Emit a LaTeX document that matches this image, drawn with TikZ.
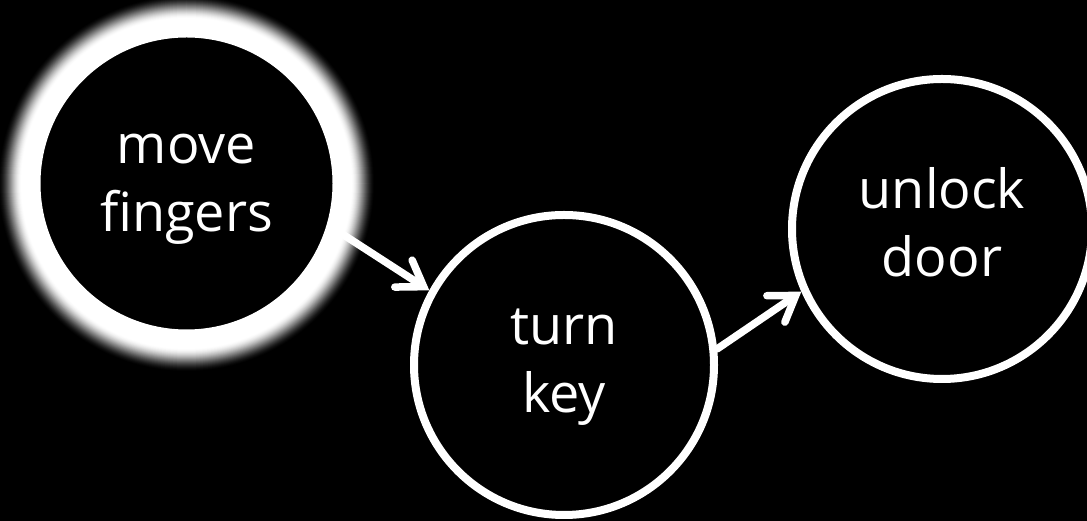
\documentclass[tikz,border=0pt]{standalone}
\usepackage{fontspec}
\setmainfont{Open Sans}
\usetikzlibrary{arrows.meta}

\tikzset{
  stage/.style={circle,draw=white,fill=black,line width=8pt,minimum size=300pt,
                inner sep=0pt,text=white,align=center,
                font=\fontsize{54}{68}\selectfont},
  flow/.style={draw=white,line width=7.5pt,line cap=round,
               -{Straight Barb[length=24pt,width=32pt,line cap=round]}}
}

\begin{document}
\begin{tikzpicture}[x=1pt,y=1pt]
  \useasboundingbox (0,0) rectangle (1087,521);
  \fill[black] (-20,-20) rectangle (1110,540);

  % halo round the first step
  \coordinate (movepos) at (186.5,337.5);
  \foreach \i [evaluate=\i as \pct using {100*(3*(\i/48)^2-2*(\i/48)^3)}] in {0,...,48}
    \fill[white!\pct!black] (movepos) circle ({189-\i/2});

  \node[stage] (move)   at (movepos)  {move\strut\\fingers\strut};
  \node[stage] (turn)   at (564,156)  {turn\strut\\key\strut};
  \node[stage] (unlock) at (942,292)  {unlock\strut\\door\strut};

  \draw[flow] (move.-17) -- (turn.151);
  \draw[flow] (turn.6)   -- (unlock.204);
\end{tikzpicture}
\end{document}
